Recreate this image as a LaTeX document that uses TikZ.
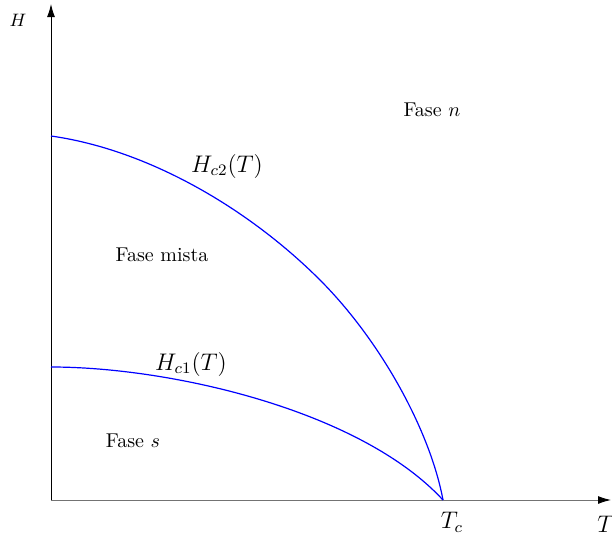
\documentclass[tikz,border=0pt]{standalone}
\usetikzlibrary{arrows.meta}
\begin{document}
\begin{tikzpicture}[x=0.5pt,y=-0.5pt,
  axis/.style={line width=0.5pt,-{Latex[length=6.5pt,width=4pt]}},
  curve/.style={blue,line width=0.6pt},
  lbl/.style={inner sep=0pt}]
\useasboundingbox (0,0) rectangle (612,541);
\coordinate (O) at (51,500);
\coordinate (Ytop) at (51,4);
\coordinate (Xend) at (611,500);
\coordinate (Xpre) at (598,500);
\coordinate (Tc) at (443,500);
\coordinate (A2) at (51,136);
\coordinate (M2) at (320,280);
\coordinate (A1) at (51,367);
\draw[line width=0.5pt,black!55] (O) -- (Xpre);
\draw[axis] (Xpre) -- (Xend);
\draw[axis] (O) -- (Ytop);
\draw[curve] (A2) .. controls (150,150) and (250,210) .. (M2)
                  .. controls (380,340) and (430,430) .. (Tc);
\draw[curve] (A1) .. controls (170,367) and (360,410) .. (Tc);
\node[lbl,font=\small] (hl) at (18,20) {$H$};
\node[lbl,font=\large] (tl) at (606,524) {$T$};
\node[lbl,font=\large] (tc) at (452,522) {$T_c$};
\node[lbl,font=\large] (hc2) at (227,166) {$H_{c2}(T)$};
\node[lbl,font=\large] (hc1) at (191,364) {$H_{c1}(T)$};
\node[lbl] (fn) at (432,110) {Fase $n$};
\node[lbl] (fm) at (162,255) {Fase mista};
\node[lbl] (fs) at (133,441) {Fase $s$};
\end{tikzpicture}
\end{document}
